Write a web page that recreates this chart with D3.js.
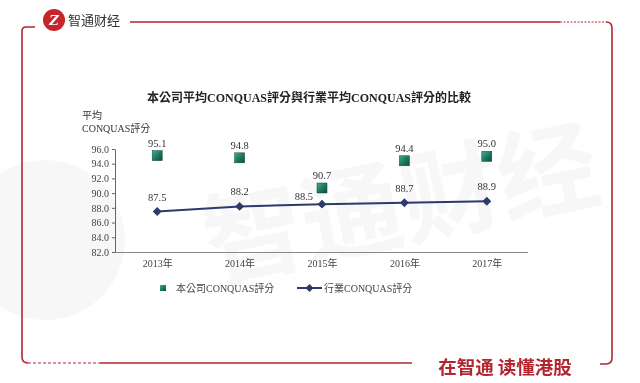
<!DOCTYPE html>
<html><head><meta charset="utf-8">
<script src="https://cdn.jsdelivr.net/npm/d3@7"></script>
<style>
html,body{margin:0;padding:0;background:#fff;}
svg{display:block;}
</style></head>
<body>
<svg id="c" width="640" height="383"></svg>
<script>
const years = ["2013年","2014年","2015年","2016年","2017年"];
const company = [95.1, 94.8, 90.7, 94.4, 95.0];
const industry = [87.5, 88.2, 88.5, 88.7, 88.9];
const yTicks = [82,84,86,88,90,92,94,96];
const title = "本公司平均CONQUAS評分與行業平均CONQUAS評分的比較";
const legendNames = ["本公司CONQUAS評分","行業CONQUAS評分"];

const svg = d3.select("#c");
const serif = "'Liberation Serif','Noto Sans CJK TC',serif";
const red = "#b3262f";

// defs
const defs = svg.append("defs");
const g1 = defs.append("linearGradient").attr("id","sq").attr("x1","0").attr("y1","0").attr("x2","1").attr("y2","1");
g1.append("stop").attr("offset","0").attr("stop-color","#3fae92");
g1.append("stop").attr("offset","0.5").attr("stop-color","#1f7a62");
g1.append("stop").attr("offset","1").attr("stop-color","#0e4a3b");

// watermark
const wm = svg.append("g").attr("opacity",0.045);
wm.append("circle").attr("cx",45).attr("cy",240).attr("r",80).attr("fill","#555");
wm.append("text").attr("x",400).attr("y",240).attr("text-anchor","middle")
  .attr("transform","rotate(-12,400,200)")
  .attr("font-family","'Noto Sans CJK SC'").attr("font-weight","bold").attr("font-size",100)
  .attr("fill","#444").text("智通财经");

// frame
const fr = svg.append("g").attr("fill","none").attr("stroke",red).attr("stroke-width",1.6);
fr.append("path").attr("d","M35,27 L26,27 Q22,27 22,31 L22,357 Q22,363 28,363");
fr.append("path").attr("d","M28,363 L100,363").attr("stroke-dasharray","3,2").attr("stroke-width",1.2);
fr.append("path").attr("d","M100,363 L412,363");
fr.append("path").attr("d","M130,22 L560,22");
fr.append("path").attr("d","M560,22 L606,22").attr("stroke-dasharray","2,1.5").attr("stroke-width",1);
fr.append("path").attr("d","M606,22 Q612,22 612,28 L612,358 Q612,364 606,364 L600,364");

// logo
svg.append("circle").attr("cx",54).attr("cy",20).attr("r",11).attr("fill","#c8242c");
svg.append("text").attr("x",54).attr("y",25).attr("text-anchor","middle").attr("fill","#fff")
  .attr("font-family","'DejaVu Serif',serif").attr("font-weight","bold").attr("font-size",13).attr("font-style","italic").text("Z");
svg.append("text").attr("x",68).attr("y",25).attr("fill","#333")
  .attr("font-family","'Noto Sans CJK SC'").attr("font-size",13).text("智通财经");
svg.append("text").attr("x",505).attr("y",374).attr("text-anchor","middle").attr("fill",red)
  .attr("font-family","'Noto Sans CJK SC'").attr("font-weight","bold").attr("font-size",18.5).text("在智通 读懂港股");

// title
svg.append("text").attr("x",309).attr("y",102).attr("text-anchor","middle").attr("fill","#222")
  .attr("font-family",serif).attr("font-weight","bold").attr("font-size",12).text(title);

// axis label
svg.append("text").attr("x",82).attr("y",119).attr("fill","#333").attr("font-family",serif).attr("font-size",10).text("平均");
svg.append("text").attr("x",82).attr("y",132).attr("fill","#333").attr("font-family",serif).attr("font-size",10).text("CONQUAS評分");

// scales
const x = d3.scalePoint().domain(years).range([116,528]).padding(0.5);
const y = d3.scaleLinear().domain([82,96]).range([252,149]);

const ya = svg.append("g").attr("transform","translate(115,0)")
  .call(d3.axisLeft(y).tickValues(yTicks).tickFormat(d3.format(".1f")).tickSize(3).tickSizeOuter(0));
ya.select(".domain").attr("stroke","#666");
ya.selectAll(".tick line").attr("stroke","#666");
ya.selectAll("text").attr("font-family",serif).attr("font-size",10).attr("fill","#444").attr("x",-6);

const xa = svg.append("g").attr("transform","translate(0,252)")
  .call(d3.axisBottom(x).tickSize(0).tickSizeOuter(0));
xa.select(".domain").attr("stroke","#888").attr("d","M115,0.5H528");
xa.selectAll("text").attr("font-family",serif).attr("font-size",10).attr("fill","#444").attr("dy","1.2em");

// industry line
const line = d3.line().x((d,i)=>x(years[i])).y(d=>y(d));
svg.append("path").datum(industry).attr("d",line).attr("fill","none").attr("stroke","#2c3a6c").attr("stroke-width",2);
svg.selectAll(".dia").data(industry).enter().append("path")
  .attr("transform",(d,i)=>`translate(${x(years[i])},${y(d)})`)
  .attr("d",d3.symbol(d3.symbolDiamond2 || d3.symbolDiamond, 50)).attr("fill","#2c3a6c");
svg.selectAll(".il").data(industry).enter().append("text")
  .attr("x",(d,i)=> i===2 ? x(years[i])-9 : x(years[i]))
  .attr("y",(d,i)=> i===2 ? y(d)-4 : y(d)-11)
  .attr("text-anchor",(d,i)=> i===2 ? "end" : "middle")
  .attr("font-family",serif).attr("font-size",10.5).attr("fill","#333")
  .text(d=>d3.format(".1f")(d));

// company markers
svg.selectAll(".sq").data(company).enter().append("rect")
  .attr("x",(d,i)=>x(years[i])-5).attr("y",d=>y(d)-5).attr("width",10).attr("height",10)
  .attr("fill","url(#sq)").attr("stroke","#0d4638").attr("stroke-width",0.5);
svg.selectAll(".cl").data(company).enter().append("text")
  .attr("x",(d,i)=>x(years[i])).attr("y",d=>y(d)-9)
  .attr("text-anchor","middle")
  .attr("font-family",serif).attr("font-size",10.5).attr("fill","#333")
  .text(d=>d3.format(".1f")(d));

// legend
const lg = svg.append("g");
lg.append("rect").attr("x",160).attr("y",285).attr("width",6).attr("height",6).attr("fill","url(#sq)");
lg.append("text").attr("x",176).attr("y",292).attr("font-family",serif).attr("font-size",10).attr("fill","#444").text(legendNames[0]);
lg.append("line").attr("x1",297).attr("x2",322).attr("y1",288).attr("y2",288).attr("stroke","#2c3a6c").attr("stroke-width",2);
lg.append("path").attr("transform","translate(309.5,288)").attr("d",d3.symbol(d3.symbolDiamond2 || d3.symbolDiamond,40)).attr("fill","#2c3a6c");
lg.append("text").attr("x",324).attr("y",292).attr("font-family",serif).attr("font-size",10).attr("fill","#444").text(legendNames[1]);
</script>
</body></html>
